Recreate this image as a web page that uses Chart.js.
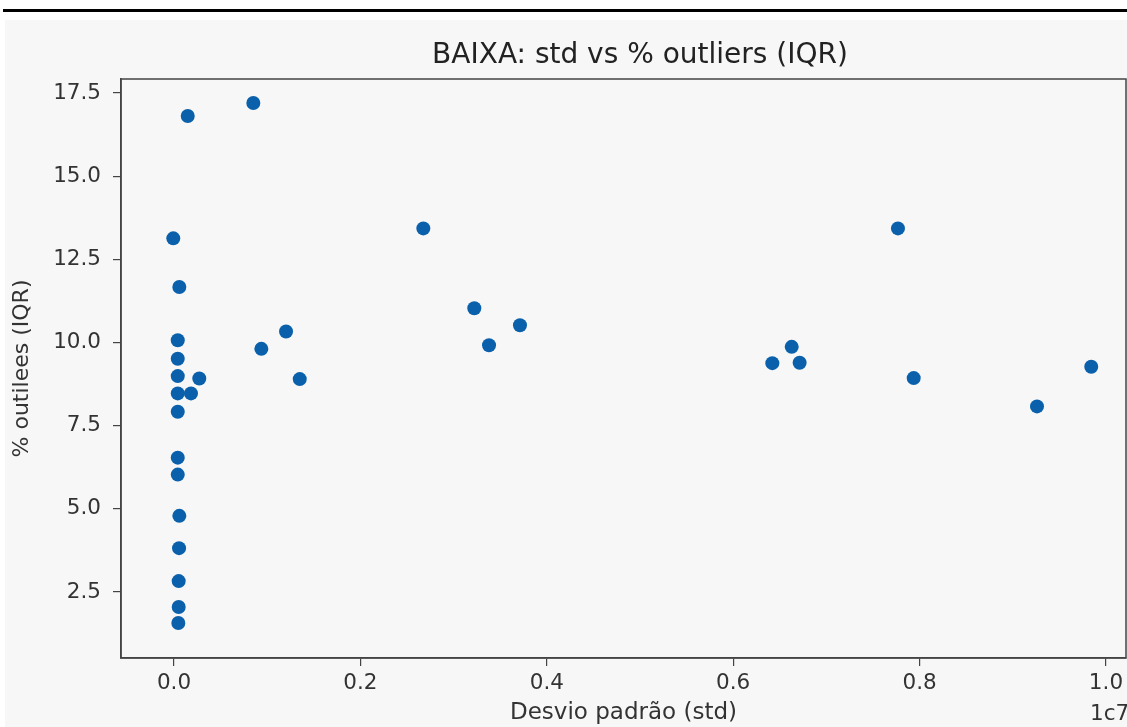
<!DOCTYPE html>
<html>
<head>
<meta charset="utf-8">
<title>BAIXA: std vs % outliers (IQR)</title>
<script src="https://cdn.jsdelivr.net/npm/chart.js@4/dist/chart.umd.min.js"></script>
<style>
    body { margin: 0; background: #fff; }
    .top-rule { position: absolute; left: 3px; top: 9px; width: 1124px; height: 3px; background: #000; }
    .panel { position: absolute; left: 5px; top: 20px; width: 1122px; height: 707px; background: #f7f7f7; }
</style>
</head>
<body>
<div class="top-rule"></div>
<div class="panel">
    <canvas id="scatterChart" width="1122" height="707"></canvas>
</div>
<script>
// std values in units of 1e7 (axis offset "1c7")
const stdValues = [
    0.0147, 0.0851, -0.0008, 0.0057, 0.0040, 0.0040, 0.0040, 0.0271,
    0.0040, 0.0182, 0.0040, 0.0040, 0.0040, 0.0057, 0.0054, 0.0050,
    0.0050, 0.0046, 0.0937, 0.1202, 0.1349, 0.2675, 0.3222, 0.3380,
    0.3712, 0.6420, 0.6628, 0.6713, 0.7768, 0.7937, 0.9260, 0.9842
];
// % outliers (IQR)
const outlierPct = [
    16.81, 17.20, 13.13, 11.67, 10.07, 9.51, 8.99, 8.92,
    8.47, 8.47, 7.92, 6.54, 6.03, 4.79, 3.82, 2.83,
    2.05, 1.57, 9.81, 10.33, 8.90, 13.43, 11.03, 9.92,
    10.52, 9.38, 9.87, 9.39, 13.43, 8.93, 8.08, 9.27
];
const xTicks = [0.0, 0.2, 0.4, 0.6, 0.8, 1.0];
const yTicks = [2.5, 5.0, 7.5, 10.0, 12.5, 15.0, 17.5];

const TITLE = 'BAIXA: std vs % outliers (IQR)';
const FONT = 'DejaVu Sans';
const AXIS_COLOR = '#444';
const TEXT_COLOR = '#333';

// 축 테두리, 제목, 오프셋 텍스트
const framePlugin = {
    id: 'frame',
    afterDraw(chart) {
        const { ctx, chartArea: a } = chart;
        ctx.save();
        ctx.strokeStyle = AXIS_COLOR;
        ctx.lineWidth = 1.5;
        ctx.strokeRect(a.left, a.top, a.right - a.left, a.bottom - a.top);

        // 제목 (원본 축 중심이 잘린 그림 밖까지 이어짐)
        ctx.fillStyle = '#222';
        ctx.font = '28px "' + FONT + '"';
        ctx.textAlign = 'center';
        ctx.textBaseline = 'middle';
        ctx.fillText(TITLE, 635, 36);

        ctx.fillStyle = TEXT_COLOR;
        ctx.font = '21.5px "' + FONT + '"';
        ctx.textAlign = 'left';
        ctx.fillText('1c7', 1085, 694);
        ctx.restore();
    }
};

function buildPoints() {
    return stdValues.map((x, i) => ({ x: x, y: outlierPct[i] }));
}

// 라벨 넘침으로 인한 여백 제거
function fixBox(s, size) {
    if (s.isHorizontal()) s.height = size; else s.width = size;
    s.paddingLeft = 0;
    s.paddingRight = 0;
    s.paddingTop = 0;
    s.paddingBottom = 0;
}

function renderChart() {
    const ctx = document.getElementById('scatterChart');

    new Chart(ctx, {
        type: 'scatter',
        data: {
            datasets: [{
                data: buildPoints(),
                backgroundColor: '#0a60ab',
                borderWidth: 0,
                pointRadius: 7,
                pointHoverRadius: 7
            }]
        },
        options: {
            responsive: false,
            animation: false,
            layout: { autoPadding: false, padding: { top: 59, left: 0, right: 1, bottom: 0 } },
            plugins: {
                legend: { display: false },
                tooltip: { enabled: false },
                title: { display: false }
            },
            scales: {
                x: {
                    type: 'linear',
                    min: -0.0569,
                    max: 1.0215,
                    afterFit: s => fixBox(s, 69),
                    afterBuildTicks: s => { s.ticks = xTicks.map(v => ({ value: v })); },
                    grid: { drawOnChartArea: false, drawTicks: true, tickLength: 8, color: AXIS_COLOR, lineWidth: 1.2 },
                    border: { display: true, color: AXIS_COLOR, width: 1.5 },
                    ticks: {
                        color: TEXT_COLOR,
                        padding: 5,
                        maxRotation: 0,
                        font: { family: FONT, size: 21.5 },
                        callback: v => v.toFixed(1)
                    },
                    title: {
                        display: true,
                        text: 'Desvio padrão (std)',
                        color: TEXT_COLOR,
                        font: { family: FONT, size: 23, lineHeight: 1.2 },
                        padding: { top: 0, bottom: 0 }
                    }
                },
                y: {
                    type: 'linear',
                    min: 0.518,
                    max: 17.92,
                    afterFit: s => fixBox(s, 116),
                    afterBuildTicks: s => { s.ticks = yTicks.map(v => ({ value: v })); },
                    grid: { drawOnChartArea: false, drawTicks: true, tickLength: 8, color: AXIS_COLOR, lineWidth: 1.2 },
                    border: { display: true, color: AXIS_COLOR, width: 1.5 },
                    ticks: {
                        color: TEXT_COLOR,
                        padding: 12,
                        font: { family: FONT, size: 21.5 },
                        callback: v => v.toFixed(1)
                    },
                    title: {
                        display: true,
                        text: '% outilees (IQR)',
                        color: TEXT_COLOR,
                        font: { family: FONT, size: 22, lineHeight: 1.2 },
                        padding: { top: 4, bottom: 0 }
                    }
                }
            }
        },
        plugins: [framePlugin]
    });
}

renderChart();
</script>
</body>
</html>
